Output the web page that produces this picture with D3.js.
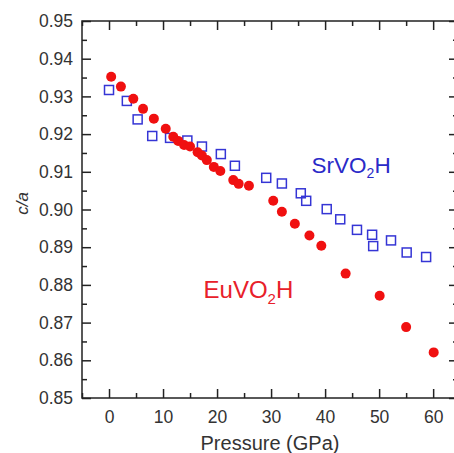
<!DOCTYPE html>
<html>
<head>
<meta charset="utf-8">
<script src="https://cdn.jsdelivr.net/npm/d3@7"></script>
<style>
  body { margin: 0; background: #fff; }
  svg { display: block; font-family: "Liberation Sans", Arial, sans-serif; }
</style>
</head>
<body>
<svg id="chart" width="454" height="453"></svg>
<script>
// EuVO2H (red filled circles)
const euPressure = [0.4, 2.2, 4.5, 6.3, 8.3, 10.5, 11.9, 12.8, 13.9, 15.0, 16.4, 17.2, 18.1, 19.4, 20.6, 23.0, 24.0, 25.9,
  30.4, 32.0, 34.4, 37.1, 39.3, 43.8, 50.1, 55.0, 60.1];
const euRatio = [0.9352, 0.9326, 0.9294, 0.9267, 0.9241, 0.9214, 0.9193, 0.9182, 0.9171, 0.9167, 0.9152, 0.9143, 0.9131, 0.9113, 0.9102, 0.9078, 0.9068, 0.9063,
  0.9023, 0.8994, 0.8962, 0.8931, 0.8904, 0.8830, 0.8771, 0.8688, 0.8621];

// SrVO2H (blue open squares)
const srPressure = [0.0, 3.3, 5.3, 8.0, 11.3, 14.5, 17.2, 20.7, 23.3, 29.1, 32.0, 35.5, 36.5, 40.3, 42.8, 45.9, 48.7, 48.9, 52.2, 55.1, 58.7];
const srRatio = [0.9317, 0.9288, 0.9239, 0.9195, 0.9190, 0.9183, 0.9167, 0.9147, 0.9116, 0.9084, 0.9069, 0.9043, 0.9023, 0.9001, 0.8974, 0.8946, 0.8933, 0.8903, 0.8918, 0.8886, 0.8874];

const xTicks = [0, 10, 20, 30, 40, 50, 60];
const yTicks = [0.85, 0.86, 0.87, 0.88, 0.89, 0.90, 0.91, 0.92, 0.93, 0.94, 0.95];

const margin = { top: 21, right: -4, bottom: 55, left: 82 };
const width = 454 - margin.left - margin.right;
const height = 453 - margin.top - margin.bottom;

const svg = d3.select('#chart')
  .append('g')
  .attr('transform', `translate(${margin.left}, ${margin.top})`);

const x = d3.scaleLinear().domain([-5, 64.6]).range([0, width]);
const y = d3.scaleLinear().domain([0.85, 0.95]).range([height, 0]);

const axisColor = '#222';
const textColor = '#333';

// minor ticks at half steps
const xMinor = d3.range(-5, 65, 5).filter(v => v % 10 !== 0);
const yMinor = d3.range(0, 10).map(i => 0.855 + i * 0.01);

function drawAxis(g, axis) {
  g.call(axis);
  g.selectAll('line').attr('stroke', axisColor).attr('stroke-width', 1.5);
  g.select('.domain').remove();
  g.selectAll('text').attr('fill', textColor).style('font-size', '17.5px');
}

// bottom
svg.append('g').attr('transform', `translate(0, ${height})`)
  .call(g => drawAxis(g, d3.axisBottom(x).tickValues(xTicks).tickSizeInner(-9).tickSizeOuter(0).tickPadding(13).tickFormat(d3.format('d'))));
svg.append('g').attr('transform', `translate(0, ${height})`)
  .call(g => drawAxis(g, d3.axisBottom(x).tickValues(xMinor).tickSizeInner(-5).tickSizeOuter(0).tickFormat('')));
// top
svg.append('g')
  .call(g => drawAxis(g, d3.axisTop(x).tickValues(xTicks).tickSizeInner(-9).tickSizeOuter(0).tickFormat('')));
svg.append('g')
  .call(g => drawAxis(g, d3.axisTop(x).tickValues(xMinor).tickSizeInner(-5).tickSizeOuter(0).tickFormat('')));
// left
svg.append('g')
  .call(g => drawAxis(g, d3.axisLeft(y).tickValues(yTicks).tickSizeInner(-9).tickSizeOuter(0).tickPadding(9).tickFormat(d3.format('.2f'))));
svg.append('g')
  .call(g => drawAxis(g, d3.axisLeft(y).tickValues(yMinor).tickSizeInner(-5).tickSizeOuter(0).tickFormat('')));
// right
svg.append('g').attr('transform', `translate(${width}, 0)`)
  .call(g => drawAxis(g, d3.axisRight(y).tickValues(yTicks).tickSizeInner(-9).tickSizeOuter(0).tickFormat('')));
svg.append('g').attr('transform', `translate(${width}, 0)`)
  .call(g => drawAxis(g, d3.axisRight(y).tickValues(yMinor).tickSizeInner(-5).tickSizeOuter(0).tickFormat('')));

// frame
svg.append('rect')
  .attr('width', width).attr('height', height)
  .attr('fill', 'none').attr('stroke', axisColor).attr('stroke-width', 1.5);

// axis titles
svg.append('text')
  .attr('x', width / 2).attr('y', height + 52)
  .attr('text-anchor', 'middle')
  .attr('fill', textColor)
  .style('font-size', '20px')
  .text('Pressure (GPa)');

svg.append('text')
  .attr('transform', `translate(${-54}, ${height / 2 - 6}) rotate(-90)`)
  .attr('text-anchor', 'middle')
  .attr('fill', textColor)
  .style('font-size', '17px')
  .style('font-style', 'italic')
  .text('c/a');

// data
const euData = euPressure.map((p, i) => ({ p: p, v: euRatio[i] }));
const srData = srPressure.map((p, i) => ({ p: p, v: srRatio[i] }));

svg.selectAll('.sr')
  .data(srData)
  .enter()
  .append('rect')
  .attr('class', 'sr')
  .attr('x', d => x(d.p) - 4.5)
  .attr('y', d => y(d.v) - 4.5)
  .attr('width', 9)
  .attr('height', 9)
  .attr('fill', 'none')
  .attr('stroke', '#3535d5')
  .attr('stroke-width', 1.5);

svg.selectAll('.eu')
  .data(euData)
  .enter()
  .append('circle')
  .attr('class', 'eu')
  .attr('cx', d => x(d.p))
  .attr('cy', d => y(d.v))
  .attr('r', 5)
  .attr('fill', '#f01010');

// series labels
const srLabel = svg.append('text')
  .attr('x', x(37.5)).attr('y', y(0.9098))
  .attr('fill', '#2a2ac8')
  .style('font-size', '22.5px');
srLabel.append('tspan').text('SrVO');
srLabel.append('tspan').attr('dy', 5).style('font-size', '14px').text('2');
srLabel.append('tspan').attr('dy', -5).text('H');

const euLabel = svg.append('text')
  .attr('x', x(17.5)).attr('y', y(0.8765))
  .attr('fill', '#e8202a')
  .style('font-size', '24px');
euLabel.append('tspan').text('EuVO');
euLabel.append('tspan').attr('dy', 6).style('font-size', '15px').text('2');
euLabel.append('tspan').attr('dy', -6).text('H');
</script>
</body>
</html>
